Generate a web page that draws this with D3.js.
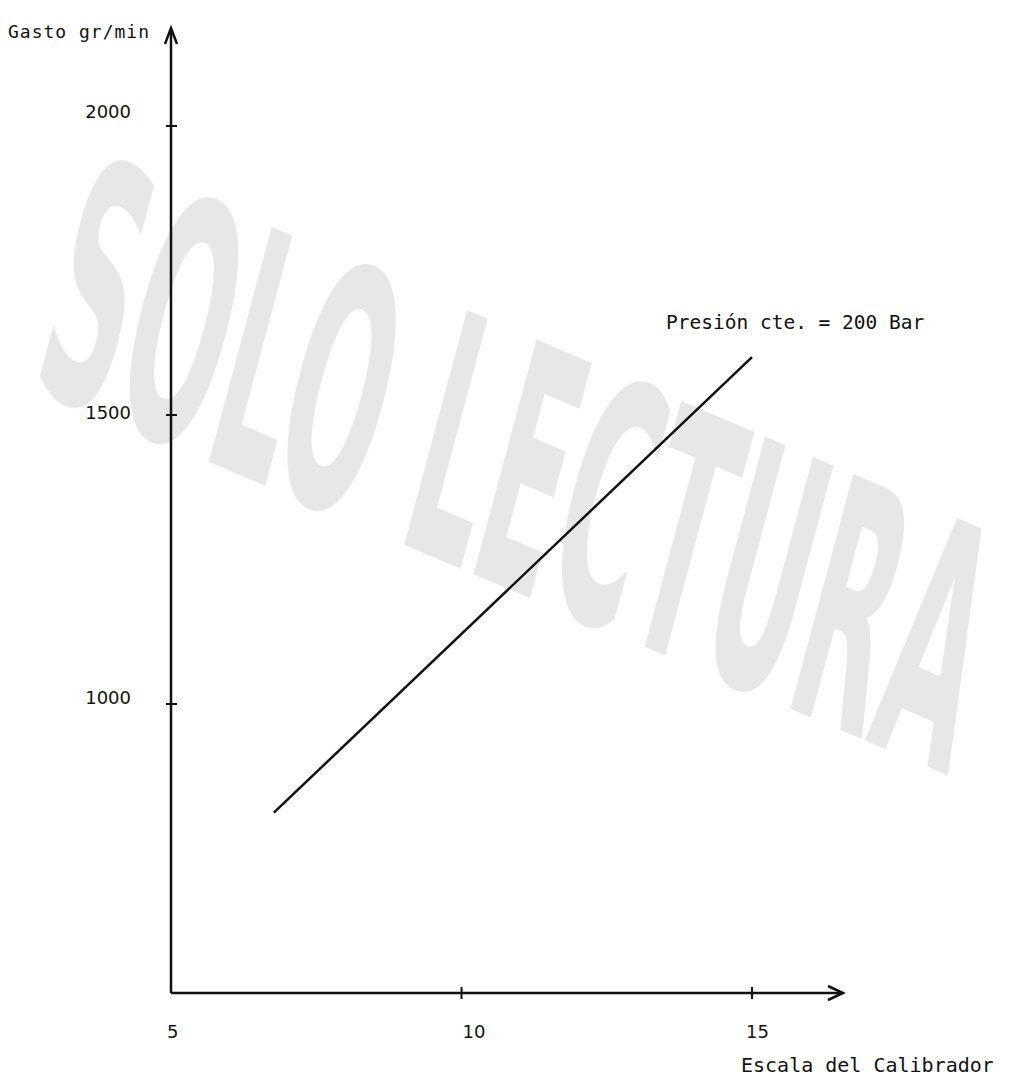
<!DOCTYPE html>
<html>
<head>
<meta charset="utf-8">
<script src="https://cdn.jsdelivr.net/npm/d3@7"></script>
<style>
  body { margin: 0; background: #fff; }
  svg { display: block; }
</style>
</head>
<body>
<div id="chart"></div>
<script>
const width = 1012, height = 1077;

// data
const xTicks = [5, 10, 15];
const yTicks = [1000, 1500, 2000];
const lineX = [6.77, 15];
const lineY = [812, 1600];
const seriesLabel = "Presión cte. = 200 Bar";
const yTitle = "Gasto gr/min";
const xTitle = "Escala del Calibrador";
const watermark = "SOLO LECTURA";

const svg = d3.select("#chart").append("svg")
    .attr("width", width)
    .attr("height", height);

const x = d3.scaleLinear().domain([5, 15]).range([171, 752]);
const y = d3.scaleLinear().domain([1000, 2000]).range([704, 126]);

// --- watermark ---
svg.append("text")
    .attr("transform", "translate(28,385) rotate(23) skewX(8)")
    .attr("font-family", "'Liberation Sans Narrow', 'DejaVu Sans Condensed', sans-serif")
    .attr("font-weight", "bold")
    .attr("font-size", 330)
    .attr("textLength", 1000)
    .attr("lengthAdjust", "spacingAndGlyphs")
    .attr("fill", "#e7e7e7")
    .text(watermark);

const ink = "#111";

// --- axes (drawn by hand, like the original sketch) ---
const x0 = x(5), yBase = y(500);
svg.append("line")
    .attr("x1", x0).attr("y1", yBase)
    .attr("x2", x0).attr("y2", 30)
    .attr("stroke", ink).attr("stroke-width", 2.5);
svg.append("path")
    .attr("d", `M${x0 - 6},${44} L${x0},${28} L${x0 + 6},${44}`)
    .attr("fill", "none").attr("stroke", ink).attr("stroke-width", 2.5);

svg.append("line")
    .attr("x1", x0).attr("y1", yBase)
    .attr("x2", 842).attr("y2", yBase)
    .attr("stroke", ink).attr("stroke-width", 2.5);
svg.append("path")
    .attr("d", `M${828},${yBase - 7} L${843},${yBase} L${828},${yBase + 7}`)
    .attr("fill", "none").attr("stroke", ink).attr("stroke-width", 2.5);

// y ticks and labels
svg.append("g").selectAll("line")
    .data(yTicks)
    .join("line")
    .attr("x1", x0 - 5).attr("x2", x0 + 6)
    .attr("y1", d => y(d)).attr("y2", d => y(d))
    .attr("stroke", ink).attr("stroke-width", 2);
svg.append("g").selectAll("text")
    .data(yTicks)
    .join("text")
    .attr("x", 131)
    .attr("y", d => y(d) - (d === 2000 ? 14 : d === 1000 ? 6 : 2))
    .attr("dy", "0.35em")
    .attr("text-anchor", "end")
    .attr("font-family", "'DejaVu Sans', sans-serif")
    .attr("font-size", 18)
    .attr("fill", ink)
    .text(d => d);

// x ticks and labels
svg.append("g").selectAll("line")
    .data(xTicks.filter(d => d !== 5))
    .join("line")
    .attr("x1", d => x(d)).attr("x2", d => x(d))
    .attr("y1", yBase - 6).attr("y2", yBase + 6)
    .attr("stroke", ink).attr("stroke-width", 2);
svg.append("g").selectAll("text")
    .data(xTicks)
    .join("text")
    .attr("x", d => x(d) + (d === 15 ? -6 : d === 10 ? 1 : -4))
    .attr("y", 1038)
    .attr("font-family", "'DejaVu Sans', sans-serif")
    .attr("font-size", 18)
    .attr("fill", ink)
    .text(d => d);

// axis titles
svg.append("text")
    .attr("x", 8).attr("y", 38)
    .attr("font-family", "'DejaVu Sans Mono', monospace")
    .attr("font-size", 18)
    .attr("letter-spacing", 1)
    .attr("fill", ink)
    .text(yTitle);
svg.append("text")
    .attr("x", 741).attr("y", 1072)
    .attr("font-family", "'DejaVu Sans Mono', monospace")
    .attr("font-size", 20)
    .attr("fill", ink)
    .text(xTitle);

// --- the line ---
const pts = lineX.map((d, i) => [d, lineY[i]]);
svg.append("path")
    .datum(pts)
    .attr("d", d3.line().x(d => x(d[0])).y(d => y(d[1])))
    .attr("fill", "none")
    .attr("stroke", ink)
    .attr("stroke-width", 2.5);

svg.append("text")
    .attr("x", x(lineX[1]) - 86)
    .attr("y", y(lineY[1]) - 28)
    .attr("font-family", "'DejaVu Sans Mono', monospace")
    .attr("font-size", 19.5)
    .attr("fill", ink)
    .text(seriesLabel);
</script>
</body>
</html>
